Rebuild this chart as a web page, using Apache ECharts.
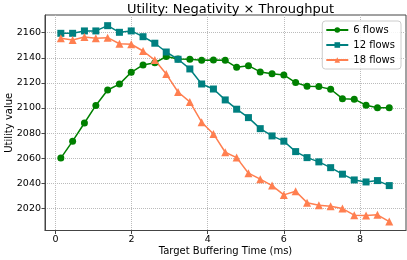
<!DOCTYPE html>
<html><head><meta charset="utf-8">
<script src="https://cdn.jsdelivr.net/npm/echarts@6/dist/echarts.min.js"></script>
<style>html,body{margin:0;padding:0;background:#fff}#c{width:407px;height:260px}</style>
</head><body><div id="c"></div>
<script>
const xValues = [0.14,0.45,0.76,1.06,1.37,1.68,1.99,2.30,2.61,2.91,3.22,3.53,3.84,4.15,4.46,4.76,5.07,5.38,5.69,6.00,6.31,6.61,6.92,7.23,7.54,7.85,8.16,8.46,8.77];
const flows6 = [2060,2073.5,2088,2102,2114.3,2119,2128.4,2134.3,2136,2141,2139,2138.8,2138,2138.2,2138,2132.4,2133.7,2128.7,2127.3,2126.3,2120.2,2117.3,2117,2114.9,2107.4,2107,2102.2,2100.2,2100.2];
const flows12 = [2159.5,2159.5,2161.4,2161.4,2165.6,2160.3,2161.4,2156.8,2151.6,2144.6,2138.8,2131.1,2119.1,2115.1,2106.4,2099,2092.3,2083.5,2077.7,2073.5,2065.2,2060.4,2057,2052.4,2047.2,2042.6,2041,2042.1,2038.1];
const flows18 = [2155.5,2154.2,2156.6,2155.5,2156,2151.2,2150.8,2145.4,2138.2,2127,2112.7,2104.8,2088.6,2079.3,2064.7,2060.4,2048,2043.2,2038.1,2030.7,2033.6,2024.5,2022.5,2021.7,2019.8,2014.5,2014.2,2014.8,2009.4];
const xTicks = [0,2,4,6,8];
const yTicks = [2020,2040,2060,2080,2100,2120,2140,2160];
const seriesNames = ['6 flows','12 flows','18 flows'];

const pair = ys => xValues.map((x,i)=>[x,ys[i]]);
const font = 'DejaVu Sans';
const chart = echarts.init(document.getElementById('c'), null, {renderer:'canvas'});
const mk = (name, data, color, symbol, size) => ({
  name, type:'line', data: pair(data), symbol, symbolSize:size,
  itemStyle:{color}, lineStyle:{color, width:1.5}, animation:false
});
chart.setOption({
  animation:false,
  title:{text:'Utility: Negativity × Throughput', left:225.5, textAlign:'center', top:-2,
    textStyle:{fontFamily:font, fontSize:13, fontWeight:'normal', color:'#000'}},
  grid:{left:45, right:1, top:15, bottom:29.5, containLabel:false, outerBoundsMode:'none',
    show:true, borderColor:'#444', borderWidth:1, backgroundColor:'transparent'},
  legend:{orient:'vertical', right:6, top:21, itemWidth:22, itemHeight:7, itemGap:3,
    padding:[3,6,3,3], backgroundColor:'rgba(255,255,255,0.85)', borderColor:'#ccc', borderWidth:1, borderRadius:3,
    textStyle:{fontFamily:font, fontSize:10, color:'#000', lineHeight:12}, data:seriesNames},
  xAxis:{type:'value', min:-0.276, max:9.21,
    name:'Target Buffering Time (ms)', nameLocation:'middle', nameGap:16, nameMoveOverlap:false,
    nameTextStyle:{fontFamily:font, fontSize:10, color:'#000'},
    axisLine:{show:true, onZero:false, lineStyle:{color:'#444'}},
    axisTick:{show:true, length:3.5, customValues:xTicks, lineStyle:{color:'#444'}},
    axisLabel:{customValues:xTicks, fontFamily:font, fontSize:9.5, color:'#000', margin:4,
      formatter: v => String(v)},
    splitLine:{show:true, lineStyle:{color:'#bbb', type:'dotted', width:1}}},
  yAxis:{type:'value', min:2002.3, max:2174.1,
    name:'Utility value', nameLocation:'middle', nameGap:31, nameMoveOverlap:false,
    nameTextStyle:{fontFamily:font, fontSize:10, color:'#000'},
    axisLine:{show:true, onZero:false, lineStyle:{color:'#444'}},
    axisTick:{show:true, length:3.5, customValues:yTicks, lineStyle:{color:'#444'}},
    axisLabel:{customValues:yTicks, fontFamily:font, fontSize:9.5, color:'#000', margin:4,
      formatter: v => String(v)},
    splitLine:{show:true, lineStyle:{color:'#bbb', type:'dotted', width:1}}},
  series:[
    mk(seriesNames[0], flows6, '#008000', 'circle', 7),
    mk(seriesNames[1], flows12, '#008080', 'rect', 7),
    mk(seriesNames[2], flows18, '#ff7f50', 'triangle', 8)
  ]
});
</script></body></html>
